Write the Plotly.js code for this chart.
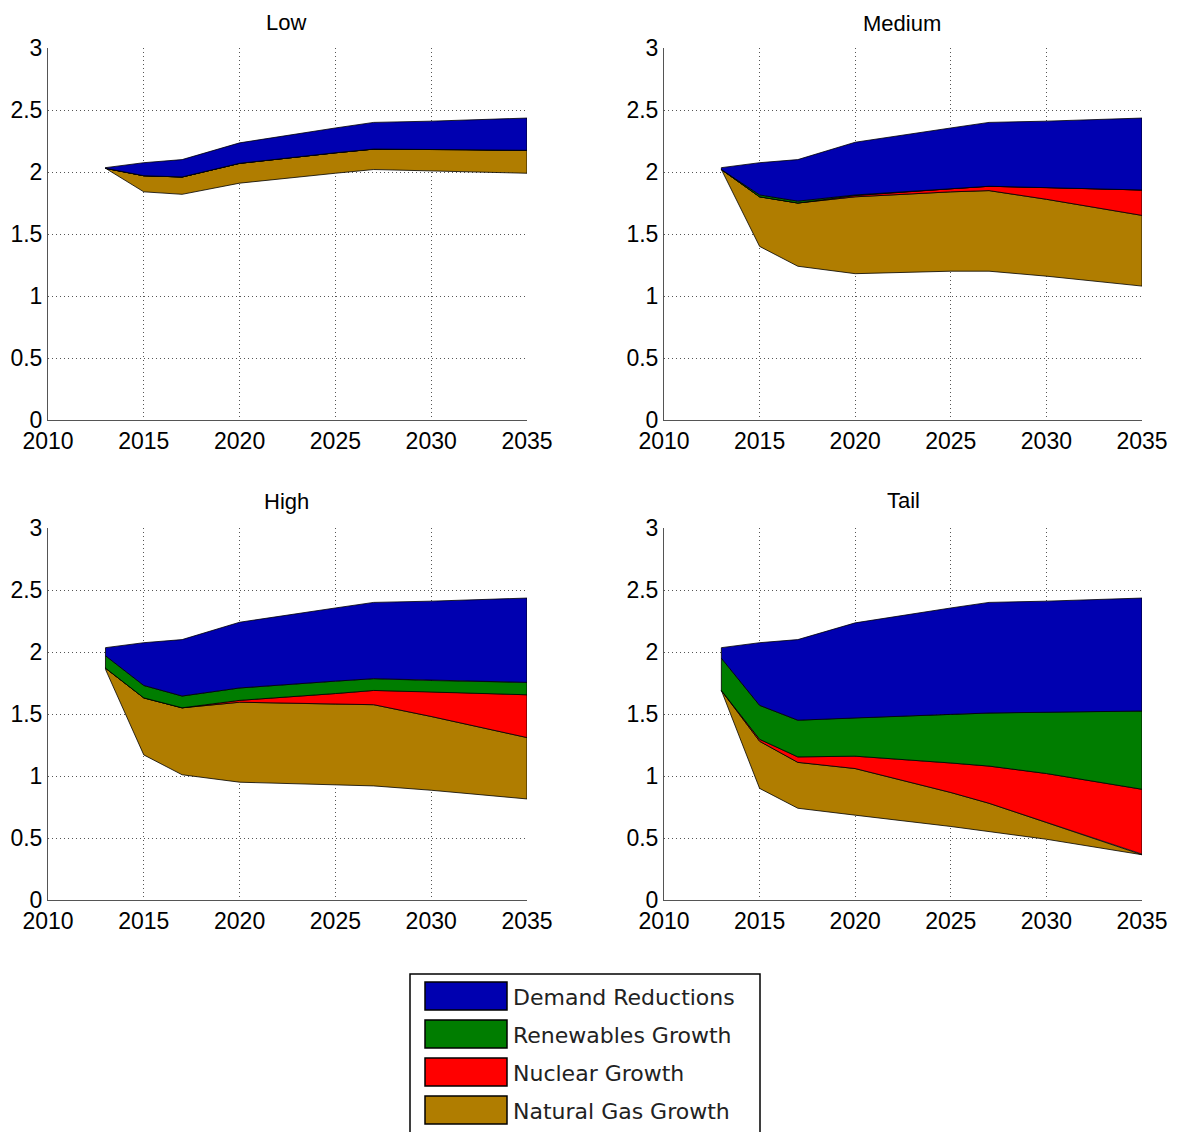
<!DOCTYPE html>
<html>
<head>
<meta charset="utf-8">
<script src="https://cdn.plot.ly/plotly-3.0.1.min.js"></script>
<style>
html,body{margin:0;padding:0;background:#fff;}
#chart{width:1179px;height:1132px;}
</style>
</head>
<body>
<div id="chart"></div>
<script>
// ---- data ----
const years = [2013, 2015, 2017, 2020, 2025, 2027, 2030, 2035];
const scenarioNames = ["Low", "Medium", "High", "Tail"];
const seriesNames = ["Demand Reductions", "Renewables Growth", "Nuclear Growth", "Natural Gas Growth"];

// remaining (bottom, unfilled) level per scenario, then the stacked contributions
const lowBase    = [2.03, 1.84, 1.82, 1.91, 1.99, 2.02, 2.01, 1.99];
const lowGas     = [0.00, 0.13, 0.14, 0.16, 0.165, 0.165, 0.175, 0.185];
const lowNuclear = [0, 0, 0, 0, 0, 0, 0, 0];
const lowRenew   = [0, 0, 0, 0, 0, 0, 0, 0];
const lowDemand  = [0.005, 0.105, 0.14, 0.165, 0.20, 0.215, 0.225, 0.26];

const medBase    = [2.02, 1.40, 1.24, 1.18, 1.20, 1.20, 1.16, 1.08];
const medGas     = [0.00, 0.40, 0.51, 0.62, 0.64, 0.65, 0.62, 0.57];
const medNuclear = [0.00, 0.00, 0.00, 0.01, 0.025, 0.035, 0.095, 0.205];
const medRenew   = [0.00, 0.015, 0.015, 0.005, 0, 0, 0, 0];
const medDemand  = [0.015, 0.26, 0.335, 0.425, 0.49, 0.515, 0.535, 0.58];

const highBase    = [1.86, 1.17, 1.01, 0.95, 0.93, 0.92, 0.885, 0.815];
const highGas     = [0.01, 0.46, 0.54, 0.645, 0.65, 0.655, 0.595, 0.495];
const highNuclear = [0.00, 0.00, 0.00, 0.015, 0.085, 0.115, 0.20, 0.345];
const highRenew   = [0.10, 0.10, 0.095, 0.10, 0.10, 0.095, 0.09, 0.10];
const highDemand  = [0.065, 0.345, 0.455, 0.53, 0.59, 0.615, 0.64, 0.68];

const tailBase    = [1.69, 0.90, 0.74, 0.684, 0.593, 0.553, 0.49, 0.365];
const tailGas     = [0.00, 0.38, 0.37, 0.376, 0.274, 0.227, 0.135, 0.005];
const tailNuclear = [0.00, 0.016, 0.044, 0.10, 0.238, 0.30, 0.395, 0.523];
const tailRenew   = [0.26, 0.274, 0.296, 0.31, 0.392, 0.428, 0.496, 0.631];
const tailDemand  = [0.085, 0.505, 0.65, 0.765, 0.858, 0.892, 0.894, 0.911];

const xTicks = [2010, 2015, 2020, 2025, 2030, 2035];
const yTicks = [0, 0.5, 1, 1.5, 2, 2.5, 3];
const yTickText = ["0", "0.5", "1", "1.5", "2", "2.5", "3"];

// ---- styling ----
const colors = {
  demand: "rgb(0,0,176)",
  renew: "rgb(0,125,0)",
  nuclear: "rgb(255,0,0)",
  gas: "rgb(176,125,0)"
};
const W = 1179, H = 1132;
const px = v => v / W;
const py = v => 1 - v / H;

const scenarios = [
  {base: lowBase, gas: lowGas, nuc: lowNuclear, ren: lowRenew, dem: lowDemand},
  {base: medBase, gas: medGas, nuc: medNuclear, ren: medRenew, dem: medDemand},
  {base: highBase, gas: highGas, nuc: highNuclear, ren: highRenew, dem: highDemand},
  {base: tailBase, gas: tailGas, nuc: tailNuclear, ren: tailRenew, dem: tailDemand}
];

const traces = [];
scenarios.forEach((s, i) => {
  const ax = i === 0 ? "" : String(i + 1);
  let lower = s.base.slice();
  const layers = [
    {vals: s.gas, color: colors.gas, name: seriesNames[3]},
    {vals: s.nuc, color: colors.nuclear, name: seriesNames[2]},
    {vals: s.ren, color: colors.renew, name: seriesNames[1]},
    {vals: s.dem, color: colors.demand, name: seriesNames[0]}
  ];
  layers.forEach(L => {
    const upper = lower.map((v, k) => v + L.vals[k]);
    traces.push({
      type: "scatter",
      mode: "lines",
      x: years.concat(years.slice().reverse(), [years[0]]),
      y: upper.concat(lower.slice().reverse(), [upper[0]]),
      fill: "toself",
      fillcolor: L.color,
      line: {color: "#000", width: 0.8},
      name: L.name,
      showlegend: false,
      hoverinfo: "skip",
      xaxis: "x" + ax,
      yaxis: "y" + ax
    });
    lower = upper;
  });
});

const xDomL = [px(48), px(527)];
const xDomR = [px(664), px(1142)];
const yDomT = [py(420), py(48)];
const yDomB = [py(900), py(528)];
const tickFont = {family: "Liberation Sans, Arial, sans-serif", size: 23, color: "#000"};

function xAxis(dom, anchor) {
  return {
    domain: dom, anchor: anchor, range: [2010, 2035],
    tickvals: xTicks, ticktext: xTicks.map(String),
    showgrid: true, gridcolor: "#555", griddash: "1px,3px", gridwidth: 1,
    showline: true, linecolor: "#555", linewidth: 1,
    zeroline: false, ticks: "", tickfont: tickFont, fixedrange: true
  };
}
function yAxis(dom, anchor) {
  return {
    domain: dom, anchor: anchor, range: [0, 3],
    tickvals: yTicks, ticktext: yTickText,
    showgrid: true, gridcolor: "#555", griddash: "1px,3px", gridwidth: 1,
    showline: true, linecolor: "#555", linewidth: 1,
    zeroline: false, ticks: "", tickfont: tickFont, ticklabelstandoff: 0, fixedrange: true
  };
}

const titlePos = [[286, 22], [902, 23], [286, 501], [903, 500]];
const annotations = scenarioNames.map((t, i) => ({
  text: t, xref: "paper", yref: "paper",
  x: px(titlePos[i][0]), y: py(titlePos[i][1]),
  xanchor: "center", yanchor: "middle", showarrow: false,
  font: {family: "Liberation Sans, Arial, sans-serif", size: 22, color: "#000"}
}));

// legend (drawn manually to match the large swatches)
const shapes = [{
  type: "rect", xref: "paper", yref: "paper",
  x0: px(410), x1: px(760), y0: py(1140), y1: py(974),
  line: {color: "#000", width: 1.5}, fillcolor: "#fff", layer: "above"
}];
const legendColors = [colors.demand, colors.renew, colors.nuclear, colors.gas];
seriesNames.forEach((n, i) => {
  const top = 982 + i * 38;
  shapes.push({
    type: "rect", xref: "paper", yref: "paper",
    x0: px(425), x1: px(507), y0: py(top + 28), y1: py(top),
    line: {color: "#000", width: 1.5}, fillcolor: legendColors[i], layer: "above"
  });
  annotations.push({
    text: n, xref: "paper", yref: "paper",
    x: px(511), y: py(top + 15), xanchor: "left", yanchor: "middle",
    showarrow: false,
    font: {family: "DejaVu Sans, sans-serif", size: 22, color: "#222"}
  });
});

const layout = {
  width: W, height: H,
  margin: {l: 0, r: 0, t: 0, b: 0},
  paper_bgcolor: "#fff", plot_bgcolor: "#fff",
  showlegend: false,
  xaxis: xAxis(xDomL, "y"), yaxis: yAxis(yDomT, "x"),
  xaxis2: xAxis(xDomR, "y2"), yaxis2: yAxis(yDomT, "x2"),
  xaxis3: xAxis(xDomL, "y3"), yaxis3: yAxis(yDomB, "x3"),
  xaxis4: xAxis(xDomR, "y4"), yaxis4: yAxis(yDomB, "x4"),
  annotations: annotations,
  shapes: shapes
};

Plotly.newPlot("chart", traces, layout, {displayModeBar: false, staticPlot: true});
</script>
</body>
</html>
